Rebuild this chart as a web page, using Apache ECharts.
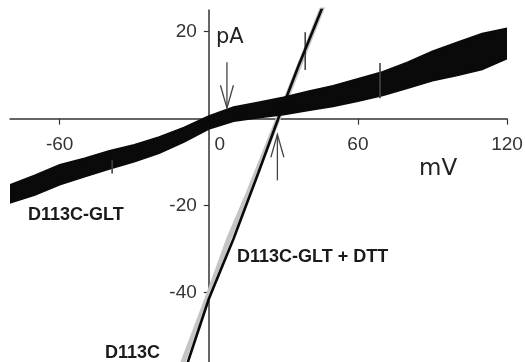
<!DOCTYPE html>
<html><head><meta charset="utf-8">
<script src="https://cdn.jsdelivr.net/npm/echarts@6/dist/echarts.min.js"></script>
<style>html,body{margin:0;padding:0;background:#fff}#c{width:525px;height:362px}</style>
</head><body><div id="c"></div>
<script>
// D113C-GLT noisy trace: envelope (lower / upper edge of the noise band)
const gltMv    = [-80, -70, -60, -50, -40, -30, -20, -10, 0, 10, 20, 30, 40, 50, 60, 70, 80, 90, 100, 110, 120];
const gltLower = [-19.4, -17.6, -15.2, -13.4, -11.6, -9.9, -8.0, -5.4, -2.4, -0.6, 0.2, 0.9, 1.9, 2.8, 4.0, 5.3, 7.0, 8.7, 9.9, 11.3, 13.8];
const gltUpper = [-15.2, -13.0, -10.6, -9.1, -7.4, -6.0, -4.2, -2.0, 0.6, 2.7, 3.8, 4.9, 6.3, 7.6, 9.2, 10.8, 13.0, 15.5, 17.6, 19.6, 20.8];
// isolated spikes on the noisy trace: [mV, pA from, pA to]
const gltSpikes = [[38.8, 19.9, 11.2], [68.9, 12.8, 4.7], [-38.9, -9.6, -12.6]];
// D113C-GLT + DTT (black)
const dttMv = [-9, 0, 10, 20, 28, 36, 46];
const dttPa = [-57, -41.5, -27.6, -12.4, 0.1, 12, 26];
// D113C (grey)
const d113cMv = [-11, 0, 8, 16, 28, 46];
const d113cPa = [-57, -40.3, -27.7, -17.0, 0.1, 26];
// arrows: [mV, tail pA, tip pA]
const arrows = [[7.3, 13.0, 2.4], [27.6, -14.2, -3.6]];
// ticks
const xTicks = [-60, 0, 60, 120];
const yTicks = [-40, -20, 20];

const axisColor = '#333';
const W = 525, H = 362;
const grid = {left: 10, right: 18, top: 10, bottom: 0};
const chart = echarts.init(document.getElementById('c'), null, {renderer: 'canvas'});
const pairs = (xs, ys) => xs.map((x, i) => [x, ys[i]]);

chart.setOption({
  animation: false,
  backgroundColor: '#fff',
  grid: Object.assign({containLabel: false, outerBoundsMode: 'none'}, grid),
  xAxis: {
    type: 'value', min: -80, max: 120, position: 'bottom',
    axisLine: {show: true, onZero: false, lineStyle: {color: axisColor, width: 1.5}},
    axisTick: {show: true, inside: false, length: 6, customValues: xTicks, lineStyle: {color: axisColor, width: 1.2}},
    axisLabel: {
      customValues: xTicks, margin: 17, fontSize: 19, color: '#333', fontFamily: 'Liberation Sans',
      formatter: v => v === 0 ? '{o|0}' : String(v),
      rich: {o: {padding: [0, 0, 0, 22], fontSize: 19, color: '#333', fontFamily: 'Liberation Sans'}}
    },
    splitLine: {show: false}
  },
  yAxis: {
    type: 'value', min: -56, max: 25, position: 'left',
    axisLine: {show: true, onZero: false, lineStyle: {color: axisColor, width: 1.5}},
    axisTick: {show: true, inside: false, length: 5, customValues: yTicks, lineStyle: {color: axisColor, width: 1.2}},
    axisLabel: {customValues: yTicks, margin: 12, fontSize: 19, color: '#333', fontFamily: 'Liberation Sans'},
    splitLine: {show: false}
  },
  series: [
    {
      type: 'line', name: 'D113C', data: pairs(d113cMv, d113cPa), showSymbol: false, clip: true,
      lineStyle: {color: '#c4c4c4', width: 5}, z: 2
    },
    {
      type: 'custom', name: 'D113C-GLT', coordinateSystem: 'cartesian2d', clip: true, z: 3,
      data: [[gltMv[0], gltLower[0]]],
      renderItem: (params, api) => {
        const pts = [];
        gltMv.forEach((m, i) => pts.push(api.coord([m, gltUpper[i]])));
        for (let i = gltMv.length - 1; i >= 0; i--) pts.push(api.coord([gltMv[i], gltLower[i]]));
        return {type: 'polygon', shape: {points: pts}, style: {fill: '#0a0a0a', stroke: '#0a0a0a', lineWidth: 1.5}};
      }
    },
    {
      type: 'custom', name: 'spikes', coordinateSystem: 'cartesian2d', z: 3,
      data: gltSpikes,
      renderItem: (params, api) => {
        const a = api.coord([api.value(0), api.value(1)]);
        const b = api.coord([api.value(0), api.value(2)]);
        return {type: 'line', shape: {x1: a[0], y1: a[1], x2: b[0], y2: b[1]}, style: {stroke: '#444', lineWidth: 1.6}};
      }
    },
    {
      type: 'line', name: 'D113C-GLT + DTT', data: pairs(dttMv, dttPa), showSymbol: false, clip: true,
      lineStyle: {color: '#0a0a0a', width: 2.6}, z: 4
    },
    {
      type: 'custom', name: 'arrows', coordinateSystem: 'cartesian2d', z: 5,
      data: arrows,
      renderItem: (params, api) => {
        const t = api.coord([api.value(0), api.value(1)]);
        const h = api.coord([api.value(0), api.value(2)]);
        const dir = h[1] > t[1] ? -1 : 1;
        const st = {stroke: '#444', lineWidth: 1.3, fill: 'none'};
        return {type: 'group', children: [
          {type: 'line', shape: {x1: t[0], y1: t[1], x2: h[0], y2: h[1]}, style: st},
          {type: 'polyline', shape: {points: [[h[0] - 6.5, h[1] + dir * 23], [h[0], h[1]], [h[0] + 6.5, h[1] + dir * 23]]}, style: st}
        ]};
      }
    }
  ],
  graphic: [
    {type: 'text', left: 216, top: 27, style: {text: 'pA', font: '21px "DejaVu Sans"', fill: '#222'}},
    {type: 'text', left: 419, top: 158, style: {text: 'mV', font: '23px "DejaVu Sans"', fill: '#222'}},
    {type: 'text', left: 28, top: 206, style: {text: 'D113C-GLT', font: 'bold 18px "Liberation Sans"', fill: '#1a1a1a'}},
    {type: 'text', left: 237, top: 248, style: {text: 'D113C-GLT + DTT', font: 'bold 18px "Liberation Sans"', fill: '#1a1a1a'}},
    {type: 'text', left: 105, top: 344, style: {text: 'D113C', font: 'bold 18px "Liberation Sans"', fill: '#1a1a1a'}}
  ]
});

// move the axes so they cross at the origin (positions from the library's own scales)
const zeroY = chart.convertToPixel({yAxisIndex: 0}, 0);
const zeroX = chart.convertToPixel({xAxisIndex: 0}, 0);
chart.setOption({
  xAxis: {offset: -((H - grid.bottom) - zeroY)},
  yAxis: {offset: -(zeroX - grid.left)}
});
</script></body></html>
